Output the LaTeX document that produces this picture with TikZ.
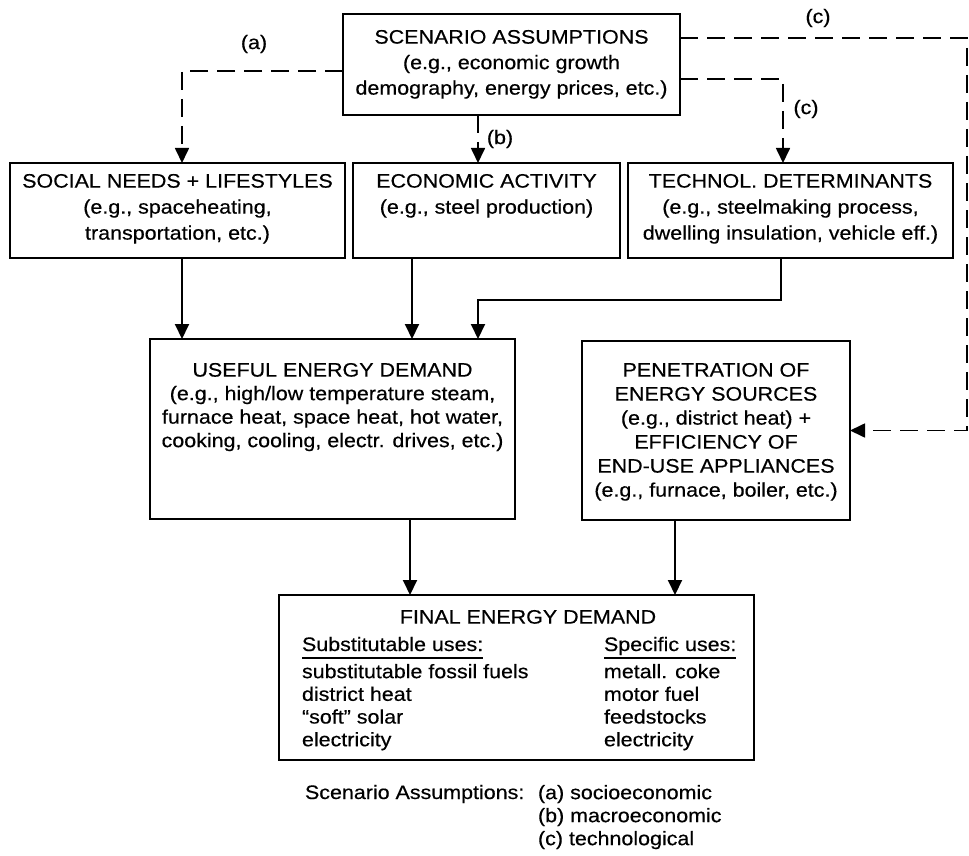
\documentclass[tikz,border=0pt]{standalone}
\usepackage{fontspec}
\setmainfont{Liberation Sans}[FakeStretch=1.1,FakeBold=0.4]
\usetikzlibrary{arrows.meta,calc}
\begin{document}
\begin{tikzpicture}[x=1pt,y=-1pt,
  every node/.style={font=\fontsize{19.5}{25}\selectfont, inner sep=0pt, outer sep=0pt},
  box/.style={draw, anchor=north west, line width=2.1pt},
  txt/.style={align=center, anchor=north},
  sarrow/.style={-{Triangle[width=14pt,length=15pt]}, line width=2pt},
  darrow/.style={-{Triangle[width=14pt,length=15pt]}, line width=1.7pt, dash pattern=on 18pt off 9pt},
  lab/.style={anchor=center},
]
\useasboundingbox (0,0) rectangle (969,856);

% boxes
\node[box, minimum width=337pt, minimum height=101pt] (sa) at (343,14) {};
\node[box, minimum width=335pt, minimum height=95pt] (soc) at (10,163) {};
\node[box, minimum width=267pt, minimum height=95pt] (eco) at (353,163) {};
\node[box, minimum width=325pt, minimum height=95pt] (tec) at (628,163) {};
\node[box, minimum width=365pt, minimum height=180pt] (use) at (150,339) {};
\node[box, minimum width=268pt, minimum height=179pt] (pen) at (582,341) {};
\node[box, minimum width=475pt, minimum height=165pt] (fin) at (279,595) {};

% texts
\node[txt, font=\fontsize{19.5}{25.5}\selectfont] (satxt) at (511.5,30)
  {SCENARIO ASSUMPTIONS\\(e.g., economic growth\\demography, energy prices, etc.)};
\node[txt, font=\fontsize{19.5}{26}\selectfont] (soctxt) at (177.5,174)
  {SOCIAL NEEDS + LIFESTYLES\\(e.g., spaceheating,\\transportation, etc.)};
\node[txt, font=\fontsize{19.5}{26}\selectfont] (ecotxt) at (486.5,174)
  {ECONOMIC ACTIVITY\\(e.g., steel production)};
\node[txt, font=\fontsize{19.5}{26}\selectfont] (tectxt) at (790.5,174)
  {TECHNOL. DETERMINANTS\\(e.g., steelmaking process,\\dwelling insulation, vehicle eff.)};
\node[txt, font=\fontsize{19.5}{23.5}\selectfont] (usetxt) at (332.5,363)
  {USEFUL ENERGY DEMAND\\(e.g., high/low temperature steam,\\furnace heat, space heat, hot water,\\cooking, cooling, electr. drives, etc.)};
\node[txt, font=\fontsize{19.5}{24}\selectfont] (pentxt) at (716,363)
  {PENETRATION OF\\ENERGY SOURCES\\(e.g., district heat) +\\EFFICIENCY OF\\END-USE APPLIANCES\\(e.g., furnace, boiler, etc.)};
\node[txt] (fintxt) at (528,610) {FINAL ENERGY DEMAND};
\node[anchor=base west] (subhead) at (302,651) {Substitutable uses:};
\node[anchor=north west, align=left, font=\fontsize{19.5}{22.7}\selectfont] (sublist) at (302,664)
  {substitutable fossil fuels\\district heat\\``soft'' solar\\electricity};
\node[anchor=base west] (spehead) at (604,651) {Specific uses:};
\node[anchor=north west, align=left, font=\fontsize{19.5}{22.7}\selectfont] (spelist) at (604,664)
  {metall. coke\\motor fuel\\feedstocks\\electricity};
\draw[line width=1.4pt] ($(subhead.base west)+(0,7)$) -- ($(subhead.base east)+(0,7)$);
\draw[line width=1.4pt] ($(spehead.base west)+(0,7)$) -- ($(spehead.base east)+(0,7)$);

% legend
\node[anchor=base west] (leg1) at (305,799) {Scenario Assumptions:};
\node[anchor=north west, align=left, font=\fontsize{19.5}{23}\selectfont] (leg2) at (538,785)
  {(a) socioeconomic\\(b) macroeconomic\\(c) technological};

% dashed connectors
\draw[darrow] (sa.west |- 0,71) -| (182,0 |- soc.north);
\draw[darrow] (478,0 |- sa.south) -- (478,0 |- eco.north);
\draw[darrow] (sa.east |- 0,79) -| (783,0 |- tec.north);
\draw[darrow] (sa.east |- 0,38) -| (967,0 |- pen.east) -- (pen.east);
\node[lab] (la) at (254,44) {(a)};
\node[lab] (lb) at (500,139) {(b)};
\node[lab] (lc1) at (806,109) {(c)};
\node[lab] (lc2) at (818,18) {(c)};

% solid connectors
\draw[sarrow] (182,0 |- soc.south) -- (182,0 |- use.north);
\draw[sarrow] (412,0 |- eco.south) -- (412,0 |- use.north);
\draw[sarrow] (781,0 |- tec.south) -- (781,300) -- (478,300) -- (478,0 |- use.north);
\draw[sarrow] (410,0 |- use.south) -- (410,0 |- fin.north);
\draw[sarrow] (675,0 |- pen.south) -- (675,0 |- fin.north);
\end{tikzpicture}
\end{document}
